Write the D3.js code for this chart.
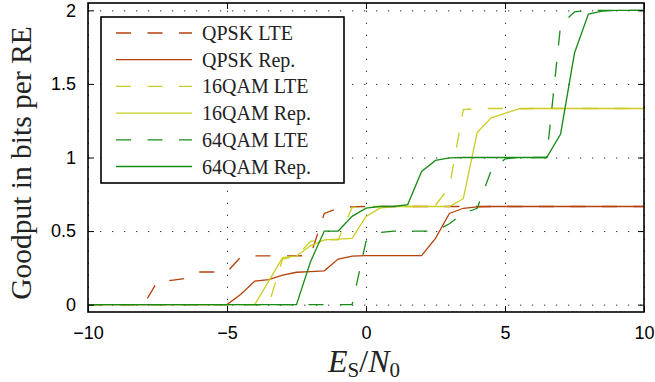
<!DOCTYPE html>
<html lang="en">
<head>
<meta charset="utf-8">
<title>Goodput vs Es/N0</title>
<script src="https://d3js.org/d3.v7.min.js"></script>
<style>
  body { margin: 0; padding: 0; background: #fff; }
  svg { display: block; }
  .tick text { font-family: "Liberation Sans", Arial, sans-serif; font-size: 18px; fill: #000; }
  .axis line { stroke: #000; stroke-width: 1; }
  .grid line { stroke: #333; stroke-width: 1; stroke-dasharray: 1.3,10.7; }
  .grid path { display: none; }
</style>
</head>
<body>
<div id="chart"></div>
<script>
// SNR grid (dB)
var snr = [-10, -9.5, -9, -8.5, -8, -7.5, -7, -6.5, -6, -5.5, -5, -4.5, -4, -3.5, -3, -2.5, -2, -1.5, -1, -0.5,
           0, 0.5, 1, 1.5, 2, 2.5, 3, 3.5, 4, 4.5, 5, 5.5, 6, 6.5, 7, 7.5, 8, 8.5, 9, 9.5, 10];

// goodput values
var qpskLte = [0, 0, 0, 0, 0, 0.158, 0.165, 0.178, 0.222, 0.222, 0.222, 0.325, 0.331, 0.331, 0.332, 0.332, 0.333, 0.62, 0.655, 0.665,
               0.667, 0.667, 0.667, 0.667, 0.667, 0.667, 0.667, 0.667, 0.667, 0.667, 0.667, 0.667, 0.667, 0.667, 0.667, 0.667, 0.667, 0.667, 0.667, 0.667, 0.667];
var qpskRep = [0, 0, 0, 0, 0, 0, 0, 0, 0, 0, 0, 0.07, 0.16, 0.17, 0.20, 0.22, 0.225, 0.23, 0.31, 0.33,
               0.333, 0.333, 0.333, 0.333, 0.333, 0.45, 0.62, 0.655, 0.665, 0.667, 0.667, 0.667, 0.667, 0.667, 0.667, 0.667, 0.667, 0.667, 0.667, 0.667, 0.667];
var qam16Lte = [0, 0, 0, 0, 0, 0, 0, 0, 0, 0, 0, 0, 0, 0, 0.31, 0.33, 0.43, 0.44, 0.44, 0.66,
                0.667, 0.667, 0.667, 0.667, 0.667, 0.675, 0.80, 1.325, 1.333, 1.333, 1.333, 1.333, 1.333, 1.333, 1.333, 1.333, 1.333, 1.333, 1.333, 1.333, 1.333];
var qam16Rep = [0, 0, 0, 0, 0, 0, 0, 0, 0, 0, 0, 0, 0, 0.16, 0.32, 0.33, 0.40, 0.44, 0.445, 0.45,
                0.60, 0.656, 0.667, 0.667, 0.667, 0.667, 0.667, 0.72, 1.17, 1.27, 1.30, 1.33, 1.333, 1.333, 1.333, 1.333, 1.333, 1.333, 1.333, 1.333, 1.333];
var qam64Lte = [0, 0, 0, 0, 0, 0, 0, 0, 0, 0, 0, 0, 0, 0, 0, 0, 0, 0, 0, 0,
                0.43, 0.49, 0.5, 0.5, 0.5, 0.5, 0.55, 0.62, 0.655, 0.91, 0.99, 1.0, 1.0, 1.0, 1.9, 1.99, 2.0, 2.0, 2.0, 2.0, 2.0];
var qam64Rep = [0, 0, 0, 0, 0, 0, 0, 0, 0, 0, 0, 0, 0, 0, 0, 0, 0.29, 0.5, 0.5, 0.6,
                0.656, 0.667, 0.667, 0.68, 0.905, 0.98, 0.997, 1.0, 1.0, 1.0, 1.0, 1.0, 1.0, 1.0, 1.16, 1.71, 1.975, 1.995, 2.0, 2.0, 2.0];

var seriesNames = ["QPSK LTE", "QPSK Rep.", "16QAM LTE", "16QAM Rep.", "64QAM LTE", "64QAM Rep."];
var seriesValues = [qpskLte, qpskRep, qam16Lte, qam16Rep, qam64Lte, qam64Rep];
var seriesColors = ["#b3420c", "#b3420c", "#cccc22", "#cccc22", "#168c16", "#168c16"];
var seriesDashed = [true, false, true, false, true, false];

var xTicks = [-10, -5, 0, 5, 10];
var yTicks = [0, 0.5, 1, 1.5, 2];

// layout
var W = 655, H = 382;
var margin = {top: 3, right: 11, bottom: 70, left: 88};
var width = W - margin.left - margin.right,
    height = H - margin.top - margin.bottom;

var svg = d3.select("#chart").append("svg")
    .attr("width", W)
    .attr("height", H);

var g = svg.append("g")
    .attr("transform", "translate(" + margin.left + "," + margin.top + ")");

var x = d3.scaleLinear().domain([-10, 10]).range([0, width]);
var y = d3.scaleLinear().domain([-0.05, 2.05]).range([height, 0]);

// dotted grid
g.append("g").attr("class", "grid")
  .attr("transform", "translate(0," + height + ")")
  .call(d3.axisBottom(x).tickValues(xTicks).tickSize(-height).tickFormat(""));
g.append("g").attr("class", "grid")
  .call(d3.axisLeft(y).tickValues(yTicks).tickSize(-width).tickFormat(""));

// curves
var line = d3.line()
  .x(function(d) { return x(d[0]); })
  .y(function(d) { return y(d[1]); });

seriesValues.forEach(function(vals, i) {
  var pts = snr.map(function(s, k) { return [s, vals[k]]; });
  g.append("path")
    .datum(pts)
    .attr("fill", "none")
    .attr("stroke", seriesColors[i])
    .attr("stroke-width", 1.3)
    .attr("stroke-dasharray", seriesDashed[i] ? "15,16.5" : null)
    .attr("d", line);
});

// axes, ticks pointing inwards
var xAx = g.append("g").attr("class", "axis")
  .attr("transform", "translate(0," + height + ")")
  .call(d3.axisBottom(x).tickValues(xTicks).tickSizeInner(-6).tickSizeOuter(0).tickPadding(14));
var yAx = g.append("g").attr("class", "axis")
  .call(d3.axisLeft(y).tickValues(yTicks).tickSizeInner(-6).tickSizeOuter(0).tickPadding(12)
        .tickFormat(d3.format("~g")));
g.append("g").attr("class", "axis")
  .call(d3.axisTop(x).tickValues(xTicks).tickSizeInner(-6).tickSizeOuter(0).tickFormat(""));
g.append("g").attr("class", "axis")
  .attr("transform", "translate(" + width + ",0)")
  .call(d3.axisRight(y).tickValues(yTicks).tickSizeInner(-6).tickSizeOuter(0).tickFormat(""));
g.selectAll(".axis path.domain").remove();
xAx.selectAll("text").attr("dy", "0.71em");

// box
g.append("rect")
  .attr("width", width).attr("height", height)
  .attr("fill", "none").attr("stroke", "#000").attr("stroke-width", 1.6);

// legend
var leg = svg.append("g").attr("transform", "translate(101,17)");
leg.append("rect")
  .attr("width", 243).attr("height", 166)
  .attr("fill", "#fff").attr("stroke", "#000").attr("stroke-width", 1.6);
seriesNames.forEach(function(name, i) {
  var ly = 16 + i * 26.7;
  leg.append("line")
    .attr("x1", 15).attr("x2", 91).attr("y1", ly).attr("y2", ly)
    .attr("stroke", seriesColors[i]).attr("stroke-width", 1.3)
    .attr("stroke-dasharray", seriesDashed[i] ? "15,16.5" : null);
  leg.append("text")
    .attr("x", 101).attr("y", ly + 7)
    .attr("font-family", "'Liberation Serif', 'Times New Roman', serif")
    .attr("font-size", 20)
    .attr("fill", "#222")
    .text(name);
});

// y axis title
svg.append("text")
  .attr("transform", "translate(31,163) rotate(-90)")
  .attr("text-anchor", "middle")
  .attr("font-family", "'Liberation Serif', 'Times New Roman', serif")
  .attr("font-size", 29.5)
  .attr("fill", "#222")
  .text("Goodput in bits per RE");

// x axis title: E_S / N_0
var xt = svg.append("text")
  .attr("x", margin.left + x(0) - 2)
  .attr("y", 372)
  .attr("text-anchor", "middle")
  .attr("font-family", "'Liberation Serif', 'Times New Roman', serif")
  .attr("font-size", 32)
  .attr("fill", "#222");
xt.append("tspan").attr("font-style", "italic").text("E");
xt.append("tspan").attr("font-size", 21).attr("dy", 5).text("S");
xt.append("tspan").attr("dy", -5).text("/");
xt.append("tspan").attr("font-style", "italic").text("N");
xt.append("tspan").attr("font-size", 21).attr("dy", 5).text("0");
</script>
</body>
</html>
